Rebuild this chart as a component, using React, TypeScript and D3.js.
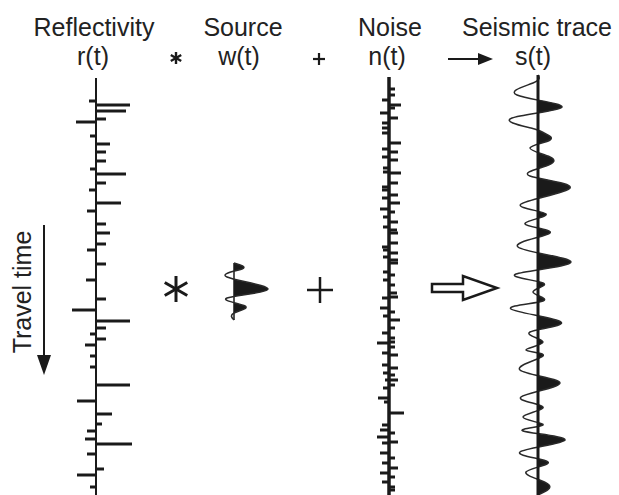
import React from 'react';
import * as d3 from 'd3';

// travel time in ms (0 at top of traces), amplitude as coefficient
const reflectivityTimes = [26, 30, 36, 44, 47, 61, 69, 77, 86, 94, 99, 108, 115, 128, 136, 149, 158, 169, 175, 189, 205, 224, 235, 246, 253, 259, 264, 270, 281, 292, 310, 326, 339, 349, 356, 364, 369, 379, 394, 400, 412];
const reflectivityValues = [-0.07, 0.34, 0.3, 0.1, -0.2, -0.06, 0.14, 0.1, 0.1, -0.06, 0.3, 0.1, -0.07, 0.25, -0.09, 0.1, 0.14, 0.1, -0.09, 0.1, -0.1, 0.1, -0.24, 0.34, 0.1, -0.06, 0.1, -0.11, -0.06, -0.06, 0.34, -0.19, 0.16, 0.06, -0.09, -0.11, 0.36, -0.09, 0.08, -0.19, -0.06];

const waveletTimes = [-26, -20, -12, 0, 9, 17, 24, 31];
const waveletValues = [0, 0.08, -0.07, 0.34, -0.07, 0.11, 0, 0];

const noiseTimes = [14, 20, 25, 30, 33, 38, 43, 48, 53, 58, 68, 74, 77, 82, 85, 93, 97, 98, 108, 112, 115, 120, 123, 128, 134, 137, 142, 147, 152, 155, 158, 168, 172, 175, 178, 182, 185, 188, 197, 200, 205, 210, 218, 222, 223, 233, 237, 241, 245, 253, 258, 263, 267, 268, 272, 278, 280, 290, 293, 298, 300, 305, 305, 310, 313, 323, 327, 338, 350, 355, 358, 362, 367, 368, 378, 383, 388, 393, 398, 402, 407, 412, 415];
const noiseValues = [0.06, 0.06, -0.07, 0.12, 0.06, -0.09, 0.09, -0.07, -0.07, -0.07, 0.12, -0.07, 0.09, -0.07, 0.09, -0.06, -0.06, 0.12, 0.09, -0.07, -0.07, 0.09, -0.07, 0.11, -0.09, 0.06, -0.06, 0.09, -0.06, 0.08, 0.09, 0.09, -0.07, -0.06, 0.09, -0.06, 0.09, 0.09, -0.06, 0.06, -0.06, 0.06, 0.08, 0.09, -0.07, -0.09, 0.06, -0.06, 0.11, 0.06, -0.07, 0.06, 0.06, -0.12, 0.06, -0.07, 0.09, -0.07, 0.09, -0.06, 0.06, -0.04, 0.09, 0.06, -0.06, -0.11, -0.05, 0.15, -0.07, -0.09, 0.06, -0.12, 0.09, -0.07, -0.09, 0.06, -0.07, 0.09, -0.09, 0.06, -0.07, 0.06, 0.06];

const seismicTimes = [0, 8, 20, 32, 43, 53, 58, 65, 73, 82, 91, 101, 113, 129, 139, 149, 158, 172, 187, 199, 208, 217, 226, 234, 247, 257, 267, 275, 281, 295, 308, 322, 332, 342, 350, 356, 365, 377, 387, 397, 409, 420];
const seismicValues = [0, -0.05, -0.21, 0.24, -0.26, -0.07, 0.06, 0.12, -0.08, 0.12, 0.08, -0.08, 0.32, -0.17, 0.08, -0.13, 0.12, -0.2, 0.33, -0.22, 0.05, -0.05, 0.05, -0.27, 0.23, -0.08, 0.05, -0.12, 0.05, -0.18, 0.22, -0.17, 0.05, -0.15, 0.05, -0.15, 0.27, -0.18, 0.1, -0.12, 0.1, 0];

const titles = ['Reflectivity', 'Source', 'Noise', 'Seismic trace'];
const symbols = ['r(t)', 'w(t)', 'n(t)', 's(t)'];

const W = 619;
const H = 495;
const ink = '#1a1a1a';
const font = '"Liberation Sans", Arial, sans-serif';

const refX = 96;
const noiseX = 389;
const seisX = 538;
const waveX = 234;

const timeScale = d3.scaleLinear().domain([0, 420]).range([75, 495]);
const amp = d3.scaleLinear().domain([-0.4, 0.4]).range([-40, 40]);
const waveTime = d3.scaleLinear().domain([-26, 31]).range([263, 320]);

type Pt = { t: number; v: number };
const zip = (ts: number[], vs: number[]): Pt[] => ts.map((t, i) => ({ t, v: vs[i] }));

const Wiggle: React.FC<{ pts: Pt[]; x: number; ty: (t: number) => number; id: string }> = ({ pts, x, ty, id }) => {
  const curve = d3.curveNatural;
  const area = d3.area<Pt>()
    .y(d => ty(d.t))
    .x0(x)
    .x1(d => x + amp(d.v))
    .curve(curve);
  const line = d3.line<Pt>()
    .y(d => ty(d.t))
    .x(d => x + amp(d.v))
    .curve(curve);
  return (
    <g>
      <clipPath id={id}>
        <rect x={x} y={0} width={60} height={H} />
      </clipPath>
      <path d={area(pts) ?? ''} fill={ink} clipPath={`url(#${id})`} />
      <path d={line(pts) ?? ''} fill="none" stroke="#2a2a2a" strokeWidth={1.5} />
    </g>
  );
};

const Spikes: React.FC<{ pts: Pt[]; x: number; w: number }> = ({ pts, x, w }) => (
  <g>
    {pts.map((d, i) => (
      <line key={i} x1={x} x2={x + amp(d.v)} y1={timeScale(d.t)} y2={timeScale(d.t)} stroke={ink} strokeWidth={w} />
    ))}
  </g>
);

const Asterisk: React.FC<{ cx: number; cy: number; r: number; w: number }> = ({ cx, cy, r, w }) => (
  <g stroke={ink} strokeWidth={w}>
    {[90, 30, 150].map(a => {
      const rad = (a * Math.PI) / 180;
      return <line key={a} x1={cx - r * Math.cos(rad)} y1={cy - r * Math.sin(rad)} x2={cx + r * Math.cos(rad)} y2={cy + r * Math.sin(rad)} />;
    })}
  </g>
);

export default function App() {
  const titleX = [94, 243, 390, 537];
  const symX = [93, 239, 387, 533];
  const refl = zip(reflectivityTimes, reflectivityValues);
  const noise = zip(noiseTimes, noiseValues);
  const seis = zip(seismicTimes, seismicValues);
  const wave = zip(waveletTimes, waveletValues);

  return (
    <svg width={W} height={H} style={{ position: 'absolute', left: 0, top: 0, background: '#fff' }} fontFamily={font}>
      {/* headers */}
      {titles.map((t, i) => (
        <text key={t} x={titleX[i]} y={36} fontSize={25} textAnchor="middle" fill="#222">{t}</text>
      ))}
      {symbols.map((t, i) => (
        <text key={t} x={symX[i]} y={65} fontSize={25} textAnchor="middle" fill="#222">{t}</text>
      ))}
      <Asterisk cx={176} cy={58} r={6} w={2.4} />
      <g stroke={ink} strokeWidth={2.2}>
        <line x1={313} x2={325} y1={59} y2={59} />
        <line x1={319} x2={319} y1={53} y2={65} />
      </g>
      <line x1={448} x2={480} y1={59} y2={59} stroke={ink} strokeWidth={2} />
      <path d="M478,53 L493,59 L478,65 Z" fill={ink} />

      {/* travel time */}
      <line x1={44} x2={44} y1={225} y2={358} stroke={ink} strokeWidth={2} />
      <path d="M37,355 L51,355 L44,375 Z" fill={ink} />
      <text transform="translate(31,292) rotate(-90)" fontSize={25} textAnchor="middle" fill="#222">Travel time</text>

      {/* reflectivity */}
      <line x1={refX} x2={refX} y1={timeScale(3)} y2={H} stroke={ink} strokeWidth={2} />
      <Spikes pts={refl} x={refX} w={3} />

      {/* operators */}
      <Asterisk cx={176} cy={289} r={13} w={3} />
      <g stroke={ink} strokeWidth={2.5}>
        <line x1={307} x2={333} y1={290} y2={290} />
        <line x1={320} x2={320} y1={277} y2={303} />
      </g>
      <path d="M432,284 L463,284 L463,276 L497,288 L463,300 L463,292 L432,292 Z" fill="none" stroke={ink} strokeWidth={2.5} strokeLinejoin="miter" />

      {/* source wavelet */}
      <line x1={waveX} x2={waveX} y1={waveTime(-26)} y2={waveTime(31)} stroke={ink} strokeWidth={1.5} />
      <Wiggle pts={wave} x={waveX} ty={waveTime} id="clipWave" />

      {/* noise */}
      <line x1={noiseX} x2={noiseX} y1={timeScale(2)} y2={H} stroke={ink} strokeWidth={3.5} />
      <Spikes pts={noise} x={noiseX} w={3} />

      {/* seismic trace */}
      <Wiggle pts={seis} x={seisX} ty={timeScale} id="clipSeis" />
      <line x1={seisX} x2={seisX} y1={timeScale(0)} y2={H} stroke={ink} strokeWidth={3} />
    </svg>
  );
}
